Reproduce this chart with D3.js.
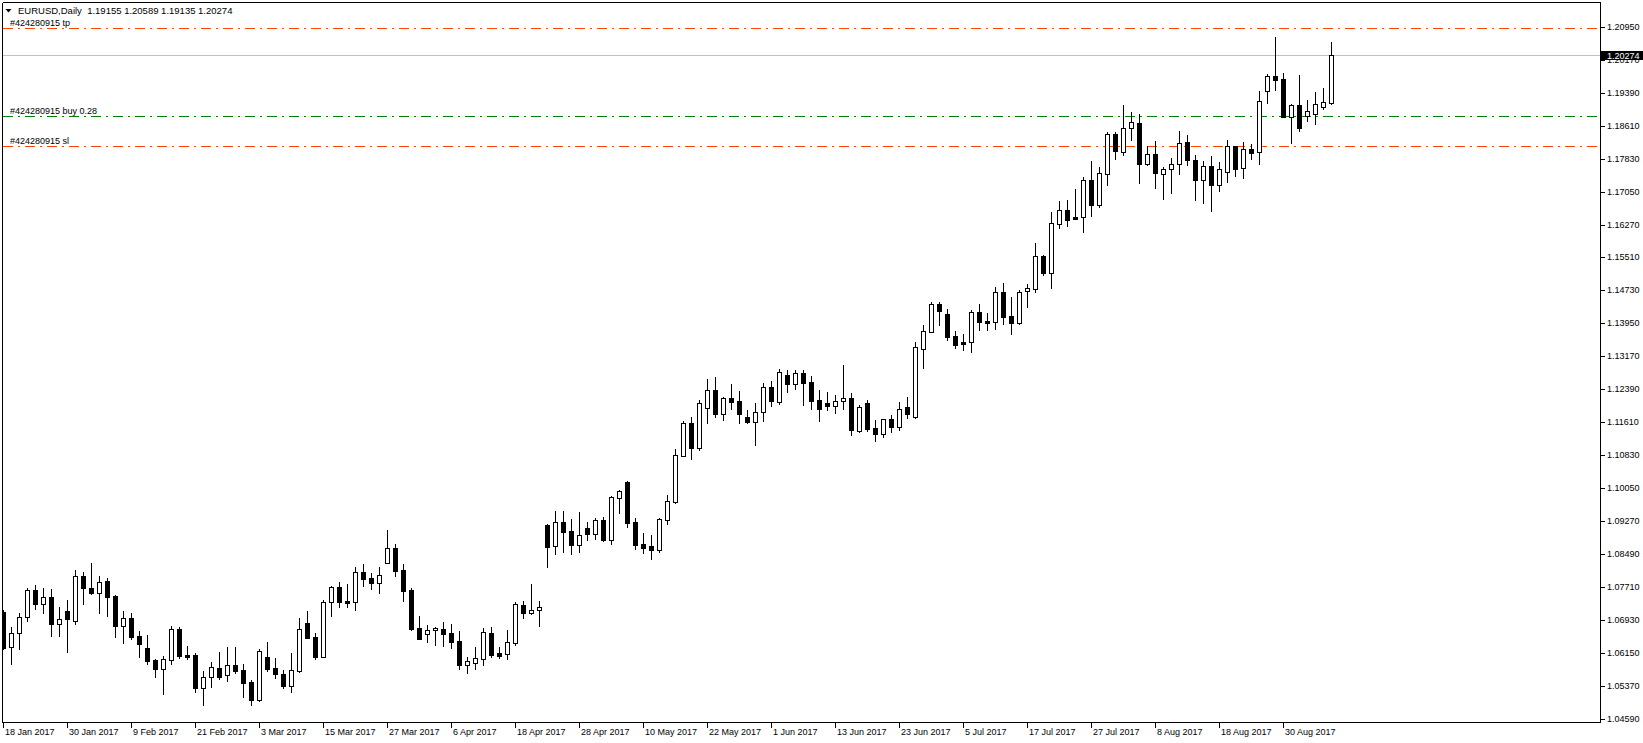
<!DOCTYPE html>
<html lang="en">
<head>
    <meta charset="UTF-8">
    <title>EURUSD,Daily</title>
    <script src="https://d3js.org/d3.v7.min.js"></script>
</head>

<style>
    body {
        margin: 0;
        background: #fff;
    }

    text {
        font-family: Tahoma, "Liberation Sans", Arial, sans-serif;
        font-size: 9px;
        fill: #000;
    }

    .frame line, .ticks line {
        stroke: #000;
        stroke-width: 1px;
        shape-rendering: crispEdges;
    }

    .candles line, .candles rect {
        stroke: #000;
        stroke-width: 1px;
        shape-rendering: crispEdges;
    }
</style>

<body>
<svg width="1643" height="743"></svg>

<script>
    // daily bars (18 Jan 2017 .. 7 Sep 2017)
    var opens = [
        1.07133, 1.06291, 1.06622, 1.06999, 1.07645, 1.07306, 1.07472, 1.06834, 1.07149, 1.06921,
        1.07975, 1.07684, 1.07566, 1.07857, 1.07503, 1.06803, 1.06976, 1.06559, 1.06267, 1.05992,
        1.05772, 1.05984, 1.06716, 1.06110, 1.06110, 1.05339, 1.05583, 1.05795, 1.05630, 1.05866,
        1.05756, 1.05473, 1.05055, 1.06055, 1.05796, 1.05654, 1.05387, 1.05741, 1.06858, 1.06536,
        1.06071, 1.07354, 1.07708, 1.07386, 1.07354, 1.08062, 1.07921, 1.07818, 1.08291, 1.08629,
        1.08110, 1.07637, 1.06740, 1.06614, 1.06693, 1.06717, 1.06622, 1.06441, 1.05867, 1.05930,
        1.06024, 1.06622, 1.06158, 1.06142, 1.06402, 1.07283, 1.07094, 1.07165, 1.09182, 1.08678,
        1.09245, 1.09040, 1.08717, 1.09111, 1.08977, 1.09292, 1.08835, 1.09811, 1.10197, 1.09245,
        1.08733, 1.08686, 1.08599, 1.09308, 1.09725, 1.10819, 1.11582, 1.11009, 1.11938, 1.12363,
        1.11812, 1.12182, 1.12111, 1.11733, 1.11623, 1.11844, 1.12434, 1.12095, 1.12717, 1.12520,
        1.12764, 1.12560, 1.12135, 1.12064, 1.12001, 1.12103, 1.12174, 1.11411, 1.12064, 1.11466,
        1.11324, 1.11686, 1.11505, 1.11970, 1.11726, 1.13347, 1.13751, 1.14397, 1.14160, 1.13641,
        1.13499, 1.13499, 1.14208, 1.14003, 1.13987, 1.14680, 1.14113, 1.13964, 1.14719, 1.14766,
        1.15530, 1.15144, 1.16301, 1.16616, 1.16459, 1.16466, 1.17324, 1.16750, 1.17466, 1.18418,
        1.18001, 1.18552, 1.18670, 1.17718, 1.17946, 1.17482, 1.17584, 1.17702, 1.18222, 1.17797,
        1.17340, 1.17663, 1.17222, 1.17513, 1.18127, 1.17608, 1.18056, 1.17986, 1.19426, 1.19780,
        1.19709, 1.18828, 1.19095, 1.18836, 1.18899, 1.19064, 1.19155
    ];
    var highs = [
        1.07172, 1.06763, 1.07094, 1.07684, 1.07763, 1.07684, 1.07660, 1.07235, 1.07409, 1.08117,
        1.08062, 1.08274, 1.07975, 1.07920, 1.07519, 1.07149, 1.07094, 1.06677, 1.06582, 1.06008,
        1.06086, 1.06795, 1.06763, 1.06323, 1.06149, 1.05732, 1.05937, 1.06181, 1.06291, 1.06291,
        1.05898, 1.05520, 1.06244, 1.06417, 1.06032, 1.05756, 1.06150, 1.06976, 1.07149, 1.06622,
        1.07409, 1.07740, 1.07834, 1.07787, 1.08188, 1.08259, 1.08039, 1.08188, 1.09062, 1.08731,
        1.08259, 1.07685, 1.07031, 1.06819, 1.06764, 1.06890, 1.06843, 1.06677, 1.06071, 1.06300,
        1.06756, 1.06764, 1.06300, 1.06701, 1.07362, 1.07386, 1.07787, 1.07386, 1.09200, 1.09512,
        1.09512, 1.09323, 1.09489, 1.09252, 1.09347, 1.09371, 1.09858, 1.10016, 1.10220, 1.09347,
        1.08993, 1.08946, 1.09355, 1.09890, 1.10976, 1.11629, 1.11732, 1.12135, 1.12631, 1.12678,
        1.12213, 1.12513, 1.12347, 1.11899, 1.12064, 1.12536, 1.12583, 1.12875, 1.12843, 1.12843,
        1.12843, 1.12701, 1.12371, 1.12324, 1.12253, 1.12961, 1.12300, 1.12017, 1.12135, 1.11670,
        1.11694, 1.11781, 1.12088, 1.12206, 1.13504, 1.13906, 1.14452, 1.14452, 1.14286, 1.13759,
        1.13696, 1.14255, 1.14397, 1.14184, 1.14806, 1.14900, 1.14562, 1.14727, 1.14869, 1.15837,
        1.15569, 1.16577, 1.16828, 1.16860, 1.17120, 1.17395, 1.17781, 1.17631, 1.18465, 1.18458,
        1.19103, 1.18938, 1.18891, 1.18127, 1.18253, 1.17639, 1.17852, 1.18489, 1.18395, 1.17923,
        1.17789, 1.17899, 1.17757, 1.18277, 1.18140, 1.18222, 1.18174, 1.19434, 1.19835, 1.20709,
        1.19859, 1.19127, 1.19811, 1.19213, 1.19410, 1.19497, 1.20589
    ];
    var lows = [
        1.06244, 1.05890, 1.06244, 1.06921, 1.07188, 1.07110, 1.06567, 1.06567, 1.06189, 1.06834,
        1.07306, 1.07550, 1.07110, 1.07039, 1.06543, 1.06401, 1.06488, 1.06071, 1.05898, 1.05598,
        1.05189, 1.05905, 1.06031, 1.06016, 1.05244, 1.04937, 1.05362, 1.05543, 1.05504, 1.05677,
        1.05126, 1.04937, 1.05016, 1.05740, 1.05575, 1.05339, 1.05245, 1.05717, 1.06504, 1.06008,
        1.06056, 1.07031, 1.07252, 1.07252, 1.07173, 1.07748, 1.07669, 1.07582, 1.08275, 1.07984,
        1.07393, 1.06701, 1.06480, 1.06425, 1.06347, 1.06331, 1.06284, 1.05788, 1.05694, 1.05788,
        1.05875, 1.06071, 1.06048, 1.06016, 1.06355, 1.06992, 1.07079, 1.06795, 1.08198, 1.08505,
        1.08552, 1.08505, 1.08552, 1.08835, 1.08859, 1.08812, 1.08741, 1.09473, 1.09142, 1.08623,
        1.08521, 1.08387, 1.08552, 1.09205, 1.09709, 1.10803, 1.10740, 1.10954, 1.11600, 1.11741,
        1.11663, 1.11922, 1.11600, 1.11600, 1.11080, 1.11639, 1.12001, 1.12048, 1.12332, 1.12402,
        1.12025, 1.11930, 1.11647, 1.11899, 1.11836, 1.11930, 1.11316, 1.11387, 1.11411, 1.11175,
        1.11269, 1.11387, 1.11434, 1.11718, 1.11700, 1.12898, 1.13728, 1.13909, 1.13539, 1.13350,
        1.13303, 1.13279, 1.13798, 1.13798, 1.13822, 1.13917, 1.13704, 1.13917, 1.14341, 1.14696,
        1.15097, 1.14790, 1.16191, 1.16254, 1.16403, 1.16112, 1.16490, 1.16702, 1.17222, 1.17836,
        1.17930, 1.18285, 1.17269, 1.17694, 1.17151, 1.16892, 1.17033, 1.17482, 1.17694, 1.16868,
        1.16797, 1.16608, 1.17081, 1.17293, 1.17435, 1.17387, 1.17836, 1.17718, 1.19158, 1.19449,
        1.18812, 1.18214, 1.18497, 1.18733, 1.18662, 1.19017, 1.19135
    ];
    var closes = [
        1.06283, 1.06622, 1.06999, 1.07645, 1.07306, 1.07472, 1.06834, 1.06952, 1.06952, 1.07975,
        1.07684, 1.07566, 1.07826, 1.07487, 1.06803, 1.06976, 1.06543, 1.06362, 1.05976, 1.05772,
        1.06016, 1.06716, 1.06086, 1.06071, 1.05339, 1.05583, 1.05819, 1.05598, 1.05866, 1.05740,
        1.05457, 1.05055, 1.06204, 1.05787, 1.05654, 1.05387, 1.05749, 1.06717, 1.06520, 1.06071,
        1.07354, 1.07708, 1.07370, 1.07346, 1.08062, 1.07905, 1.07818, 1.07992, 1.08629, 1.08102,
        1.07630, 1.06725, 1.06496, 1.06693, 1.06748, 1.06614, 1.06425, 1.05882, 1.05961, 1.06032,
        1.06646, 1.06119, 1.06095, 1.06410, 1.07307, 1.07094, 1.07165, 1.07252, 1.08670, 1.09245,
        1.09024, 1.08717, 1.08938, 1.08977, 1.09292, 1.08827, 1.09835, 1.09984, 1.09237, 1.08717,
        1.08646, 1.08599, 1.09323, 1.09740, 1.10826, 1.11582, 1.11007, 1.12056, 1.12363, 1.11812,
        1.12182, 1.12095, 1.11812, 1.11623, 1.11844, 1.12434, 1.12119, 1.12788, 1.12520, 1.12764,
        1.12544, 1.12119, 1.11930, 1.12001, 1.12103, 1.12174, 1.11434, 1.11970, 1.11458, 1.11340,
        1.11678, 1.11505, 1.11914, 1.11812, 1.13378, 1.13756, 1.14397, 1.14247, 1.13633, 1.13444,
        1.13460, 1.14208, 1.13987, 1.13964, 1.14680, 1.14105, 1.13964, 1.14680, 1.14774, 1.15530,
        1.15144, 1.16309, 1.16616, 1.16396, 1.16419, 1.17324, 1.16750, 1.17489, 1.18418, 1.18009,
        1.18552, 1.18694, 1.17718, 1.17938, 1.17506, 1.17584, 1.17702, 1.18198, 1.17797, 1.17340,
        1.17663, 1.17222, 1.17584, 1.18127, 1.17600, 1.18056, 1.17978, 1.19190, 1.19780, 1.19701,
        1.18828, 1.19095, 1.18568, 1.18954, 1.19119, 1.19166, 1.20274
    ];

    var priceTicks = [
        1.20950, 1.20170, 1.19390, 1.18610, 1.17830, 1.17050, 1.16270, 1.15510, 1.14730, 1.13950,
        1.13170, 1.12390, 1.11610, 1.10830, 1.10050, 1.09270, 1.08490, 1.07710, 1.06930, 1.06150,
        1.05370, 1.04590
    ];
    var timeLabels = [
        "18 Jan 2017", "30 Jan 2017", "9 Feb 2017", "21 Feb 2017", "3 Mar 2017", "15 Mar 2017",
        "27 Mar 2017", "6 Apr 2017", "18 Apr 2017", "28 Apr 2017", "10 May 2017", "22 May 2017",
        "1 Jun 2017", "13 Jun 2017", "23 Jun 2017", "5 Jul 2017", "17 Jul 2017", "27 Jul 2017",
        "8 Aug 2017", "18 Aug 2017", "30 Aug 2017"
    ];

    var orderLabels = ["#424280915 tp", "#424280915 buy 0.28", "#424280915 sl"];
    var orderPrices = [1.2091, 1.1884, 1.1813];
    var orderColors = ["#ff4500", "#008000", "#ff4500"];

    var symbolTitle = "EURUSD,Daily  1.19155 1.20589 1.19135 1.20274";
    var lastPrice = 1.20274;

    var svg = d3.select("svg"),
        width = +svg.attr("width"),
        height = +svg.attr("height");

    var frameL = 2.5, frameR = 1600.5, frameT = 2.5, frameB = 722.5;

    // one bar per weekday
    var dates = d3.timeDay.range(new Date(2017, 0, 18), new Date(2017, 8, 30))
        .filter(function (d) { return d.getDay() !== 0 && d.getDay() !== 6; })
        .slice(0, opens.length);
    var fmt = d3.timeFormat("%-d %b %Y");

    var bars = dates.map(function (d, i) {
        return {date: d, o: opens[i], h: highs[i], l: lows[i], c: closes[i]};
    });

    var x = d3.scalePoint()
        .domain(dates)
        .range([3.5, 3.5 + 8 * (dates.length - 1)]);

    var y = d3.scaleLinear()
        .domain([1.0459, 1.2095])
        .range([719.3, 26.8]);

    function py(v) { return Math.round(y(v)) + 0.5; }

    svg.append("rect").attr("width", width).attr("height", height).attr("fill", "#fff");

    svg.append("defs").append("clipPath").attr("id", "plotclip")
        .append("rect")
        .attr("x", frameL).attr("y", frameT)
        .attr("width", frameR - frameL).attr("height", frameB - frameT);

    var plot = svg.append("g").attr("clip-path", "url(#plotclip)");

    // current price line
    plot.append("line")
        .attr("x1", frameL).attr("x2", frameR)
        .attr("y1", py(lastPrice)).attr("y2", py(lastPrice))
        .attr("stroke", "#c0c0c0")
        .attr("shape-rendering", "crispEdges");

    // order lines
    orderPrices.forEach(function (p, i) {
        plot.append("line")
            .attr("x1", frameL).attr("x2", frameR - 3)
            .attr("y1", py(p)).attr("y2", py(p))
            .attr("stroke", orderColors[i])
            .attr("stroke-dasharray", "10,5,2,5")
            .attr("shape-rendering", "crispEdges");
        plot.append("text")
            .attr("x", 10)
            .attr("y", y(p) - 5.5)
            .attr("dy", "0.35em")
            .text(orderLabels[i]);
    });

    // candles
    var candle = plot.append("g")
        .attr("class", "candles")
        .selectAll("g")
        .data(bars)
        .enter().append("g");

    candle.append("line")
        .attr("x1", function (d) { return x(d.date); })
        .attr("x2", function (d) { return x(d.date); })
        .attr("y1", function (d) { return Math.round(y(d.h)); })
        .attr("y2", function (d) { return Math.round(y(d.l)) + 1; });

    candle.append("rect")
        .attr("x", function (d) { return x(d.date) - 2; })
        .attr("y", function (d) { return py(Math.max(d.o, d.c)); })
        .attr("width", 4)
        .attr("height", function (d) {
            return Math.max(1, Math.round(y(Math.min(d.o, d.c))) - Math.round(y(Math.max(d.o, d.c))));
        })
        .attr("fill", function (d) { return d.c >= d.o ? "#fff" : "#000"; });

    // frame
    var frame = svg.append("g").attr("class", "frame");
    frame.append("line").attr("x1", frameL).attr("x2", frameR).attr("y1", frameT).attr("y2", frameT);
    frame.append("line").attr("x1", frameL).attr("x2", frameR).attr("y1", frameB).attr("y2", frameB);
    frame.append("line").attr("x1", frameL).attr("x2", frameL).attr("y1", frameT).attr("y2", frameB);
    frame.append("line").attr("x1", frameR).attr("x2", frameR).attr("y1", frameT).attr("y2", frameB);

    // price axis
    var ticks = svg.append("g").attr("class", "ticks");
    priceTicks.forEach(function (p) {
        ticks.append("line")
            .attr("x1", frameR).attr("x2", frameR + 4)
            .attr("y1", py(p)).attr("y2", py(p));
        ticks.append("text")
            .attr("x", 1607)
            .attr("y", y(p))
            .attr("dy", "0.35em")
            .text(p.toFixed(5));
    });

    // current price label
    svg.append("rect")
        .attr("x", frameR).attr("y", Math.round(y(lastPrice)) - 4)
        .attr("width", width - frameR).attr("height", 9)
        .attr("fill", "#000");
    svg.append("text")
        .attr("x", 1607)
        .attr("y", Math.round(y(lastPrice)) + 0.5)
        .attr("dy", "0.35em")
        .style("fill", "#fff")
        .text(lastPrice.toFixed(5));

    // time axis
    var byLabel = {};
    dates.forEach(function (d) { byLabel[fmt(d)] = d; });
    timeLabels.forEach(function (t) {
        var tx = x(byLabel[t]);
        ticks.append("line")
            .attr("x1", tx).attr("x2", tx)
            .attr("y1", frameB).attr("y2", frameB + 5);
        ticks.append("text")
            .attr("x", tx + 1.5)
            .attr("y", 731.5)
            .attr("dy", "0.35em")
            .text(t);
    });

    // title
    svg.append("path")
        .attr("d", "M5.5,9 L11.5,9 L8.5,12.5 Z")
        .attr("fill", "#000");
    svg.append("text")
        .attr("x", 18)
        .attr("y", 11)
        .attr("dy", "0.35em")
        .style("font-size", "9.5px")
        .style("white-space", "pre")
        .text(symbolTitle);
</script>
</body>
</html>
